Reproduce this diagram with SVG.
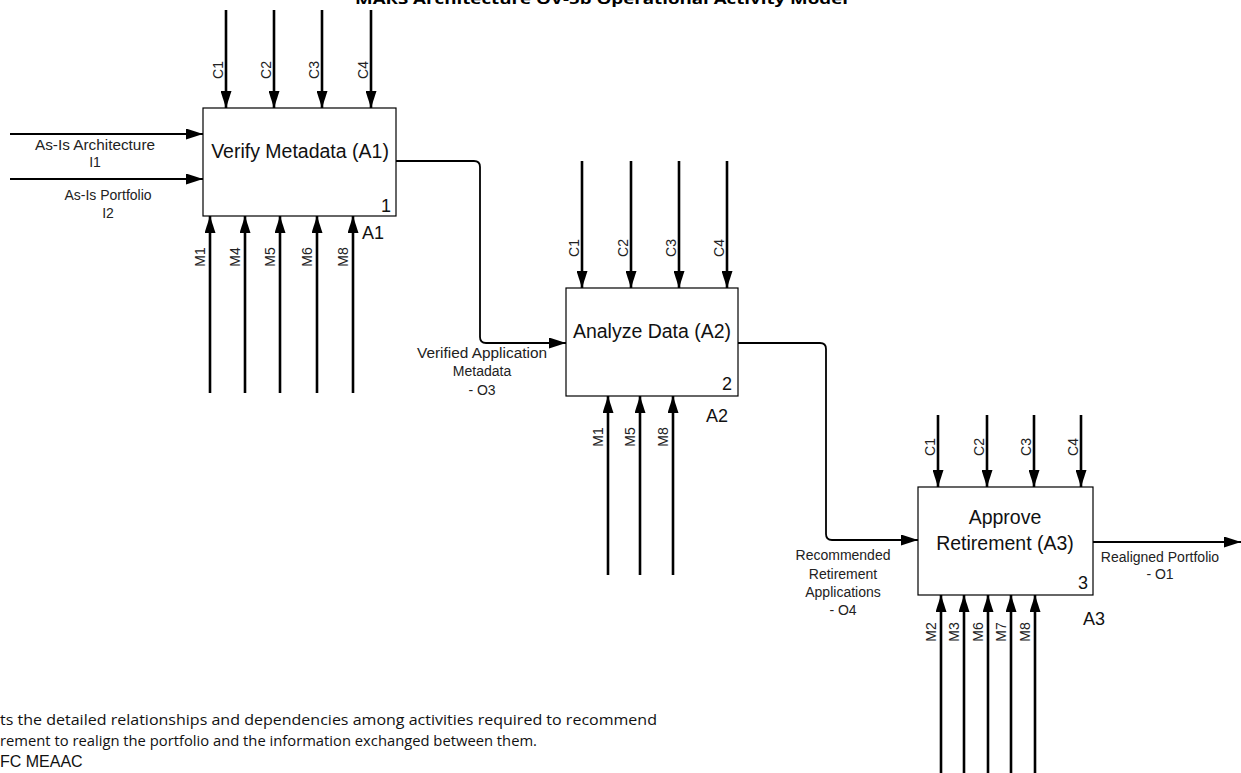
<svg xmlns="http://www.w3.org/2000/svg" width="1241" height="773" viewBox="0 0 1241 773">
<defs>
<marker id="ah" markerUnits="userSpaceOnUse" markerWidth="17" markerHeight="11" refX="17" refY="5.5" orient="auto"><path d="M0,0 L17,5.5 L0,11 z" fill="#000"/></marker>
</defs>
<style>
.box{fill:#fff;stroke:#000;stroke-width:1.2}
.arr{fill:none;stroke:#000;stroke-width:2.6;marker-end:url(#ah)}
.flow{fill:none;stroke:#000;stroke-width:1.8;marker-end:url(#ah)}
.tl{font-family:"Liberation Sans",Arial,sans-serif;font-size:14px;fill:#222;text-anchor:middle}
.rl{font-family:"Liberation Sans",Arial,sans-serif;font-size:14px;fill:#222;text-anchor:middle}
.bt{font-family:"Liberation Sans",Arial,sans-serif;font-size:19.5px;fill:#111;text-anchor:middle}
.num{font-family:"Liberation Sans",Arial,sans-serif;font-size:18px;fill:#111;text-anchor:end}
.ref{font-family:"Liberation Sans",Arial,sans-serif;font-size:18px;fill:#111}
.cal{font-family:"Open Sans","Liberation Sans",sans-serif;font-size:15px;fill:#111}
</style>
<rect width="1241" height="773" fill="#fff"/>
<text x="355" y="4" font-family="Open Sans, Liberation Sans, sans-serif" font-size="15" font-weight="bold" textLength="493" lengthAdjust="spacingAndGlyphs">MARS Architecture OV-5b Operational Activity Model</text>

<g id="connectors">
<line class="arr" x1="226" y1="10" x2="226" y2="108"/>
<line class="arr" x1="274" y1="10" x2="274" y2="108"/>
<line class="arr" x1="322" y1="10" x2="322" y2="108"/>
<line class="arr" x1="371" y1="10" x2="371" y2="108"/>
<line class="flow" x1="10" y1="134" x2="203" y2="134"/>
<line class="flow" x1="10" y1="179" x2="203" y2="179"/>
<line class="arr" x1="210" y1="393" x2="210" y2="216"/>
<line class="arr" x1="245" y1="393" x2="245" y2="216"/>
<line class="arr" x1="280" y1="393" x2="280" y2="216"/>
<line class="arr" x1="317" y1="393" x2="317" y2="216"/>
<line class="arr" x1="353" y1="393" x2="353" y2="216"/>
<path class="flow" d="M396,161 H474 Q480,161 480,167 V337 Q480,343 486,343 H566"/>
<line class="arr" x1="582" y1="161" x2="582" y2="288"/>
<line class="arr" x1="631" y1="161" x2="631" y2="288"/>
<line class="arr" x1="679" y1="161" x2="679" y2="288"/>
<line class="arr" x1="727" y1="161" x2="727" y2="288"/>
<line class="arr" x1="608" y1="575" x2="608" y2="396"/>
<line class="arr" x1="640" y1="575" x2="640" y2="396"/>
<line class="arr" x1="673" y1="575" x2="673" y2="396"/>
<path class="flow" d="M738,343 H820 Q826,343 826,349 V534 Q826,540 832,540 H918"/>
<line class="arr" x1="938" y1="415" x2="938" y2="487"/>
<line class="arr" x1="987" y1="415" x2="987" y2="487"/>
<line class="arr" x1="1034" y1="415" x2="1034" y2="487"/>
<line class="arr" x1="1081" y1="415" x2="1081" y2="487"/>
<line class="arr" x1="941" y1="780" x2="941" y2="595"/>
<line class="arr" x1="964" y1="780" x2="964" y2="595"/>
<line class="arr" x1="988" y1="780" x2="988" y2="595"/>
<line class="arr" x1="1011" y1="780" x2="1011" y2="595"/>
<line class="arr" x1="1035" y1="780" x2="1035" y2="595"/>
<line class="flow" x1="1093" y1="542" x2="1241" y2="542"/>
</g>

<g id="labels">
<text class="tl" x="95" y="150" textLength="120" lengthAdjust="spacingAndGlyphs">As-Is Architecture</text>
<text class="tl" x="95" y="167">I1</text>
<text class="tl" x="108" y="200">As-Is Portfolio</text>
<text class="tl" x="108" y="218">I2</text>
<text class="rl" transform="translate(223,70) rotate(-90)">C1</text>
<text class="rl" transform="translate(271,70) rotate(-90)">C2</text>
<text class="rl" transform="translate(319,70) rotate(-90)">C3</text>
<text class="rl" transform="translate(368,70) rotate(-90)">C4</text>
<text class="rl" transform="translate(205,257) rotate(-90)">M1</text>
<text class="rl" transform="translate(240,257) rotate(-90)">M4</text>
<text class="rl" transform="translate(275,257) rotate(-90)">M5</text>
<text class="rl" transform="translate(312,257) rotate(-90)">M6</text>
<text class="rl" transform="translate(348,257) rotate(-90)">M8</text>
<text class="tl" x="482" y="358" textLength="130" lengthAdjust="spacingAndGlyphs">Verified Application</text>
<text class="tl" x="482" y="376">Metadata</text>
<text class="tl" x="482" y="395">- O3</text>
<text class="rl" transform="translate(579,248) rotate(-90)">C1</text>
<text class="rl" transform="translate(628,248) rotate(-90)">C2</text>
<text class="rl" transform="translate(676,248) rotate(-90)">C3</text>
<text class="rl" transform="translate(724,248) rotate(-90)">C4</text>
<text class="rl" transform="translate(603,437) rotate(-90)">M1</text>
<text class="rl" transform="translate(635,437) rotate(-90)">M5</text>
<text class="rl" transform="translate(668,437) rotate(-90)">M8</text>
<text class="tl" x="843" y="560">Recommended</text>
<text class="tl" x="843" y="579">Retirement</text>
<text class="tl" x="843" y="597">Applications</text>
<text class="tl" x="843" y="615">- O4</text>
<text class="rl" transform="translate(935,447) rotate(-90)">C1</text>
<text class="rl" transform="translate(984,447) rotate(-90)">C2</text>
<text class="rl" transform="translate(1031,447) rotate(-90)">C3</text>
<text class="rl" transform="translate(1078,447) rotate(-90)">C4</text>
<text class="rl" transform="translate(936,632) rotate(-90)">M2</text>
<text class="rl" transform="translate(959,632) rotate(-90)">M3</text>
<text class="rl" transform="translate(983,632) rotate(-90)">M6</text>
<text class="rl" transform="translate(1006,632) rotate(-90)">M7</text>
<text class="rl" transform="translate(1030,632) rotate(-90)">M8</text>
<text class="tl" x="1160" y="562">Realigned Portfolio</text>
<text class="tl" x="1160" y="579">- O1</text>
</g>

<g id="A1">
<rect class="box" x="203" y="108" width="193" height="108"/>
<text class="bt" x="300" y="158">Verify Metadata (A1)</text>
<text class="num" x="391" y="212">1</text>
<text class="ref" x="362" y="239">A1</text>
</g>

<g id="A2">
<rect class="box" x="566" y="288" width="172" height="108"/>
<text class="bt" x="652" y="338">Analyze Data (A2)</text>
<text class="num" x="732" y="390">2</text>
<text class="ref" x="706" y="422">A2</text>
</g>

<g id="A3">
<rect class="box" x="918" y="487" width="175" height="108"/>
<text class="bt" x="1005" y="524">Approve</text>
<text class="bt" x="1005" y="550">Retirement (A3)</text>
<text class="num" x="1088" y="589">3</text>
<text class="ref" x="1083" y="625">A3</text>
</g>

<g id="caption">
<text class="cal" x="0" y="725" textLength="657" lengthAdjust="spacingAndGlyphs">ts the detailed relationships and dependencies among activities required to recommend</text>
<text class="cal" x="0" y="746" textLength="537" lengthAdjust="spacingAndGlyphs">rement to realign the portfolio and the information exchanged between them.</text>
<text x="0" y="767" font-family="Liberation Sans, Arial, sans-serif" font-size="16" fill="#111">FC MEAAC</text>
</g>
</svg>
